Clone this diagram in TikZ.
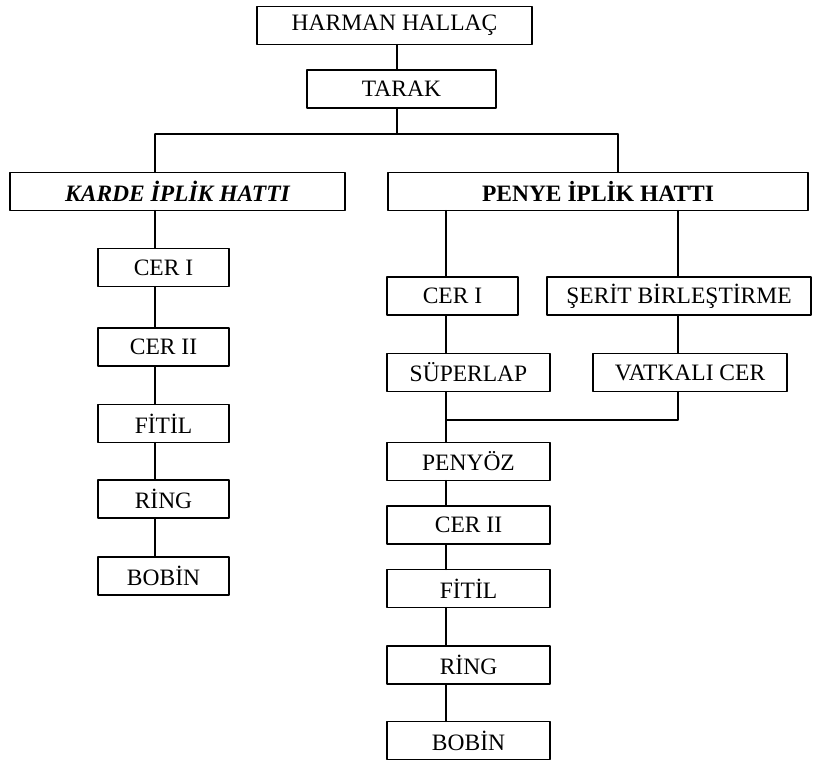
\documentclass[tikz,border=0pt]{standalone}
\usepackage{fontspec}
\setmainfont{Liberation Serif}
\usetikzlibrary{positioning}
\tikzset{
    every picture/.style={line cap=round,line join=round},
    stagebox/.style={draw=black,line width=1.1pt,minimum height=38pt,
      inner sep=0pt,outer sep=0pt,font=\fontsize{23.5}{27}\selectfont,align=center},
    linkline/.style={draw=black,line width=1.1pt}
}
\begin{document}
\begin{tikzpicture}[x=1pt,y=-1pt]
  \useasboundingbox (0,0) rectangle (813,760);
  % ana hat
  \node[stagebox,minimum width=275pt] (harman) at (394.5,25.5) {HARMAN HALLAÇ};
  \node[stagebox,minimum width=189pt] (tarak) at (401.5,89) {TARAK};
  \node[stagebox,minimum width=335pt,font=\fontsize{23.5}{27}\selectfont\bfseries\itshape] (karde) at (177.5,191.5) {KARDE İPLİK HATTI};
  \node[stagebox,minimum width=420pt,font=\fontsize{23.5}{27}\selectfont\bfseries] (penye) at (598,191.5) {PENYE İPLİK HATTI};
  % karde hatti
  \foreach \name/\txt/\y in {kcer1/CER I/267.5,kcer2/CER II/347,kfitil/FİTİL/423.5,kring/RİNG/499,kbobin/BOBİN/576}
    \node[stagebox,minimum width=131pt] (\name) at (163.5,\y) {\txt};
  % penye hatti
  \node[stagebox,minimum width=131pt] (pcer1) at (452.5,296) {CER I};
  \node[stagebox,minimum width=264pt] (serit) at (679,296) {ŞERİT BİRLEŞTİRME};
  \node[stagebox,minimum width=163pt] (superlap) at (468.5,372.5) {SÜPERLAP};
  \node[stagebox,minimum width=194pt] (vatkali) at (690,372.5) {VATKALI CER};
  \foreach \name/\txt/\y in {penyoz/PENYÖZ/461.5,pcer2/CER II/525,pfitil/FİTİL/588.5,pring/RİNG/665,pbobin/BOBİN/740.5}
    \node[stagebox,minimum width=163pt] (\name) at (468.5,\y) {\txt};
  % baglantilar
  \coordinate (split) at (397,134);
  \coordinate (kline) at (155,134);
  \coordinate (pline) at (618,134);
  \coordinate (pcol) at (446,420);
  \coordinate (scol) at (678,420);
  \draw[linkline] (harman.south -| split) -- (tarak.north -| split);
  \draw[linkline] (tarak.south -| split) -- (split);
  \draw[linkline] (kline) -- (pline);
  \draw[linkline] (kline) -- (karde.north -| kline);
  \draw[linkline] (pline) -- (penye.north -| pline);
  \foreach \a/\b in {karde/kcer1,kcer1/kcer2,kcer2/kfitil,kfitil/kring,kring/kbobin}
    \draw[linkline] (\a.south -| kline) -- (\b.north -| kline);
  \foreach \a/\b in {penye/pcer1,pcer1/superlap,superlap/penyoz,penyoz/pcer2,pcer2/pfitil,pfitil/pring,pring/pbobin}
    \draw[linkline] (\a.south -| pcol) -- (\b.north -| pcol);
  \draw[linkline] (penye.south -| scol) -- (serit.north -| scol);
  \draw[linkline] (serit.south -| scol) -- (vatkali.north -| scol);
  \draw[linkline] (vatkali.south -| scol) -- (scol) -- (pcol);
\end{tikzpicture}
\end{document}
